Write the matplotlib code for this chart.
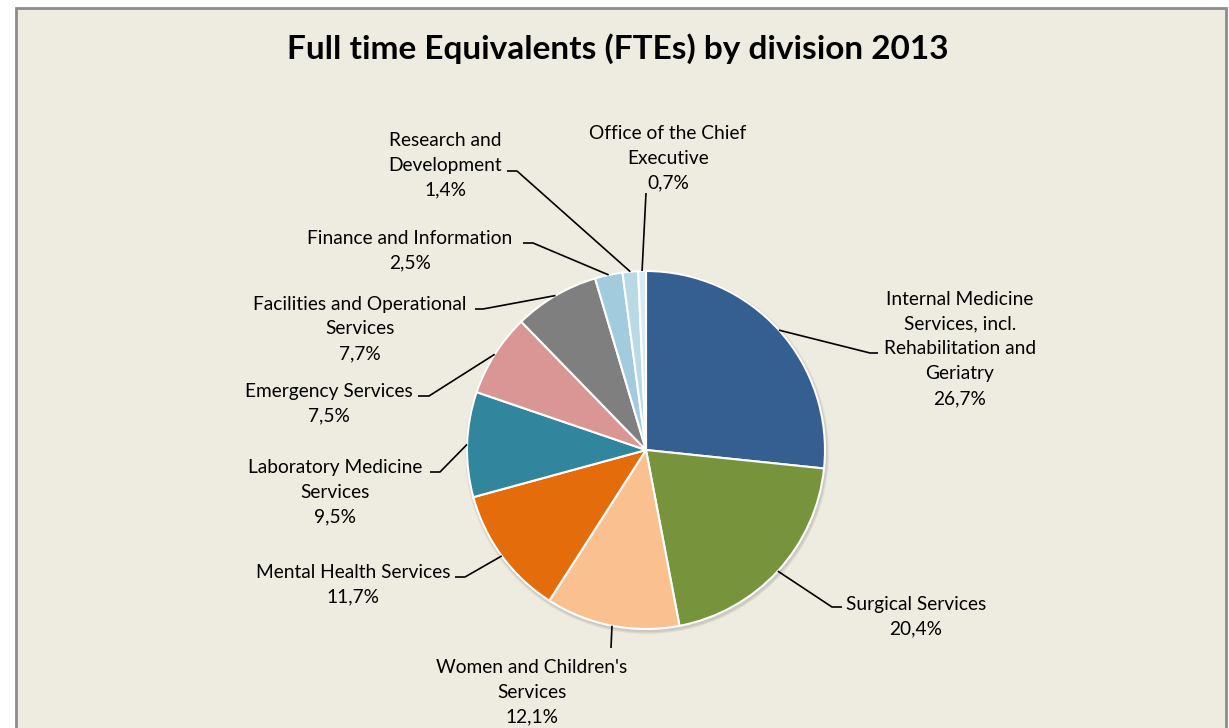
import matplotlib.pyplot as plt
import matplotlib.patches as mpatches
import numpy as np

names = ["Internal Medicine\nServices, incl.\nRehabilitation and\nGeriatry",
         "Surgical Services",
         "Women and Children's\nServices",
         "Mental Health Services",
         "Laboratory Medicine\nServices",
         "Emergency Services",
         "Facilities and Operational\nServices",
         "Finance and Information",
         "Research and\nDevelopment",
         "Office of the Chief\nExecutive"]
values = [26.7, 20.4, 12.1, 11.7, 9.5, 7.5, 7.7, 2.5, 1.4, 0.7]
colors = ["#365F91", "#77933C", "#FAC090", "#E46C0A", "#31859C",
          "#D99694", "#7F7F7F", "#A2CCDE", "#B9D9E6", "#D9EAF2"]

# layout (pixels from top-left): label centre and leader-line elbow
text_pos = [(960, 349), (916, 617), (532, 692), (353, 585), (335, 492),
            (329, 404), (360, 329), (410, 251), (445, 165), (668, 158)]
elbow = [(870, 353, 878), (832, 607, 842), (611, 648, 611), (465, 577, 455),
         (440, 472, 430), (429, 396, 418), (483, 309, 475), (533, 243, 523),
         (517, 171, 507), (646, 193, 646)]

W, H = 1229, 728
cx, cy, r = 646, 450, 179

plt.rcParams['font.family'] = ['Lato', 'DejaVu Sans']

fig = plt.figure(figsize=(W / 100, H / 100), dpi=100)
fig.patch.set_facecolor('white')
ax = fig.add_axes([0, 0, 1, 1])

def Y(py):
    return H - py

# chart area
ax.add_patch(mpatches.Rectangle((16, Y(740)), 1210, 732, facecolor='#EEECE1',
                                edgecolor='#8C8C8C', linewidth=2, zorder=0))

# soft shadow
for k in range(3):
    ax.add_patch(mpatches.Circle((cx + 1, Y(cy) - 2), r + 3 - k, color='black',
                                 alpha=0.05, linewidth=0, zorder=1))

wedges, _ = ax.pie(values, colors=colors, startangle=90, counterclock=False,
                   center=(cx, Y(cy)), radius=r, frame=True,
                   wedgeprops=dict(edgecolor='white', linewidth=1.5))
for w in wedges:
    w.set_zorder(2)
ax.set_xlim(0, W)
ax.set_ylim(0, H)
ax.axis('off')

for w, name, v, tp, el in zip(wedges, names, values, text_pos, elbow):
    ang = np.deg2rad((w.theta1 + w.theta2) / 2)
    x0 = cx + r * np.cos(ang)
    y0 = Y(cy) + r * np.sin(ang)
    ex, ey, hx = el
    ax.plot([x0, ex, hx], [y0, Y(ey), Y(ey)], color='black', linewidth=1.2,
            zorder=3, solid_capstyle='butt')
    label = name + "\n" + f"{v:.1f}%".replace('.', ',')
    ax.text(tp[0], Y(tp[1]), label, ha='center', va='center',
            multialignment='center', fontsize=13.8, linespacing=1.55,
            color='black', zorder=4)

ax.text(618, Y(49), "Full time Equivalents (FTEs) by division 2013",
        ha='center', va='center', fontsize=24, fontweight='bold', color='black')

fig.savefig('out.png', dpi=100, facecolor='white')
